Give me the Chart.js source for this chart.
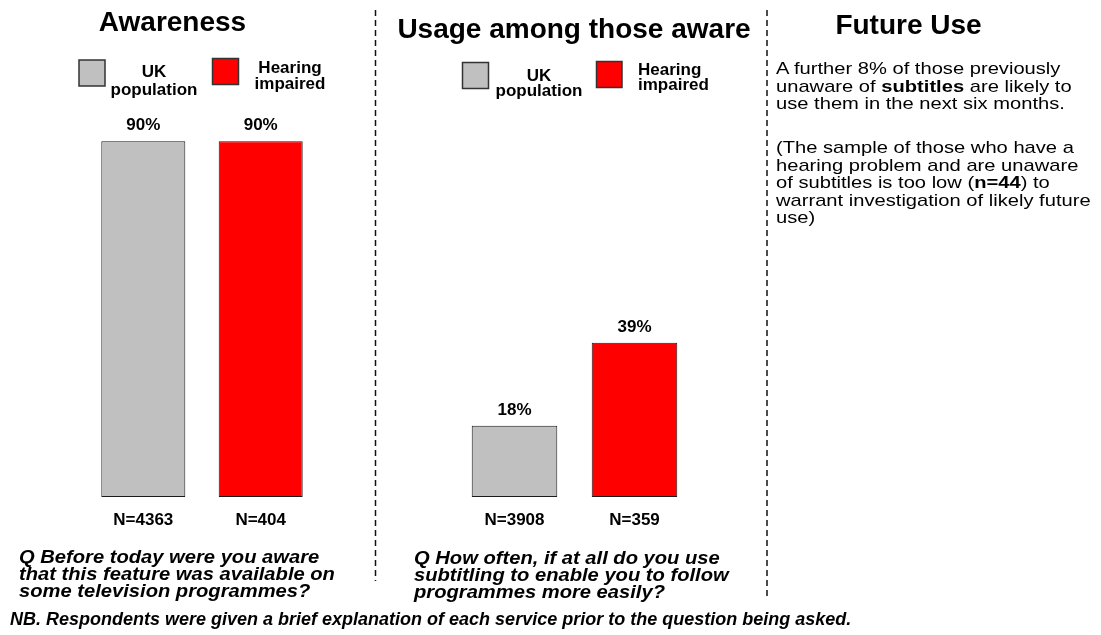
<!DOCTYPE html>
<html>
<head>
<meta charset="utf-8">
<title>Subtitles: awareness and usage</title>
<script src="https://cdn.jsdelivr.net/npm/chart.js@4/dist/chart.umd.min.js"></script>
<style>
  html, body { margin: 0; padding: 0; background: #fff; }
  #page { position: relative; width: 1101px; height: 635px; overflow: hidden;
          font-family: "Liberation Sans", Arial, Helvetica, sans-serif; color: #000; }
  canvas.layer { position: absolute; left: 0; top: 0; }
  .t { position: absolute; white-space: nowrap; transform-origin: 0 0; }
  .title { font-weight: bold; font-size: 28px; line-height: 32px; text-align: center; width: 420px; }
  .q { font-weight: bold; font-style: italic; font-size: 18px; line-height: 17px; transform: scaleX(1.12); }
  .nb { font-weight: bold; font-style: italic; font-size: 18px; line-height: 20px; }
  .body { font-size: 17px; line-height: 17.5px; transform: scaleX(1.185); }
</style>
</head>
<body>
<div id="page">
  <canvas id="awareness" class="layer" width="1101" height="635"></canvas>
  <canvas id="usage" class="layer" width="1101" height="635"></canvas>

  <div class="t title" style="left:-37.5px; top:6.3px;">Awareness</div>
  <div class="t title" style="left:364px; top:13.3px;">Usage among those aware</div>
  <div class="t title" style="left:698.5px; top:9.3px;">Future Use</div>

  <div class="t body" style="left:776px; top:60.4px;">A further 8% of those previously<br>unaware of <b>subtitles</b> are likely to<br>use them in the next six months.</div>
  <div class="t body" style="left:776px; top:139.4px;">(The sample of those who have a<br>hearing problem and are unaware<br>of subtitles is too low (<b>n=44</b>) to<br>warrant investigation of likely future<br>use)</div>

  <div class="t q" style="left:19px; top:548.6px;">Q Before today were you aware<br>that this feature was available on<br>some television programmes?</div>
  <div class="t q" style="left:414px; top:550.3px;">Q How often, if at all do you use<br>subtitling to enable you to follow<br>programmes more easily?</div>

  <div class="t nb" style="left:10px; top:608.8px;">NB. Respondents were given a brief explanation of each service prior to the question being asked.</div>
</div>

<script>
// ---- data ----
const categories = ["UK population", "Hearing impaired"];
const legendLines = [["UK", "population"], ["Hearing", "impaired"]];
const awarenessValues = [90, 90];      // % aware of subtitles
const usageValues = [18, 39];          // % using subtitles, among those aware
const awarenessBases = [4363, 404];    // sample sizes
const usageBases = [3908, 359];
const barColors = ["#c0c0c0", "#ff0000"];

const FONT = '"Liberation Sans", Arial, Helvetica, sans-serif';

// Draws value labels, base sizes and the two-line legend for each panel
const panelLabels = {
  id: "panelLabels",
  afterDatasetsDraw(chart, args, opts) {
    const ctx = chart.ctx;
    const ds = chart.data.datasets[0];
    const meta = chart.getDatasetMeta(0);
    ctx.save();
    ctx.fillStyle = "#000";
    ctx.font = "bold 17px " + FONT;
    ctx.textAlign = "center";
    ctx.textBaseline = "alphabetic";
    meta.data.forEach((bar, i) => {
      ctx.fillText(ds.data[i] + "%", bar.x, bar.y - 11);
      ctx.fillText("N=" + opts.bases[i], bar.x, bar.base + 28);
    });
    // legend
    opts.legend.forEach((item, i) => {
      const b = item.box;
      ctx.fillStyle = barColors[i];
      ctx.fillRect(b.x, b.y, b.w, b.h);
      ctx.lineWidth = 1.5;
      ctx.strokeStyle = "#333";
      ctx.strokeRect(b.x, b.y, b.w, b.h);
      ctx.fillStyle = "#000";
      ctx.textAlign = item.align;
      legendLines[i].forEach((line, k) => {
        ctx.fillText(line, item.x, item.baselines[k]);
      });
    });
    // dashed panel dividers
    if (opts.dividers) {
      ctx.strokeStyle = "#111";
      ctx.lineWidth = 1.5;
      ctx.setLineDash([6, 4]);
      opts.dividers.forEach(d => {
        ctx.beginPath();
        ctx.moveTo(d.x, d.y0);
        ctx.lineTo(d.x, d.y1);
        ctx.stroke();
      });
    }
    ctx.restore();
  }
};

function makePanel(id, values, bases, pad, catPct, legend, dividers) {
  return new Chart(document.getElementById(id), {
    type: "bar",
    data: {
      labels: categories,
      datasets: [{
        data: values,
        backgroundColor: barColors,
        borderColor: "#1a1a1a",
        borderWidth: 1,
        borderSkipped: false,
        barPercentage: 1,
        categoryPercentage: catPct
      }]
    },
    options: {
      responsive: false,
      animation: false,
      devicePixelRatio: 1,
      layout: { padding: pad },
      scales: {
        x: { display: false },
        y: { display: false, min: 0, max: 100 }
      },
      plugins: {
        legend: { display: false },
        tooltip: { enabled: false },
        panelLabels: { bases: bases, legend: legend, dividers: dividers }
      }
    },
    plugins: [panelLabels]
  });
}

makePanel("awareness", awarenessValues, awarenessBases,
  { left: 84.6, right: 1101 - 319.4, top: 101.8, bottom: 138 }, 0.7155,
  [
    { box: { x: 79, y: 60, w: 26, h: 26 }, x: 154, align: "center", baselines: [77, 94.5] },
    { box: { x: 212.5, y: 58.5, w: 26, h: 26 }, x: 290, align: "center", baselines: [73, 89] }
  ],
  [ { x: 375.5, y0: 10, y1: 581 }, { x: 767, y0: 10, y1: 599 } ]
);

makePanel("usage", usageValues, usageBases,
  { left: 454.5, right: 1101 - 694.5, top: 101.8, bottom: 138 }, 0.713,
  [
    { box: { x: 462.5, y: 62.5, w: 26, h: 26 }, x: 539, align: "center", baselines: [81, 95.5] },
    { box: { x: 596.5, y: 61.5, w: 25.5, h: 26 }, x: 638, align: "left", baselines: [75, 90] }
  ],
  null
);
</script>
</body>
</html>
